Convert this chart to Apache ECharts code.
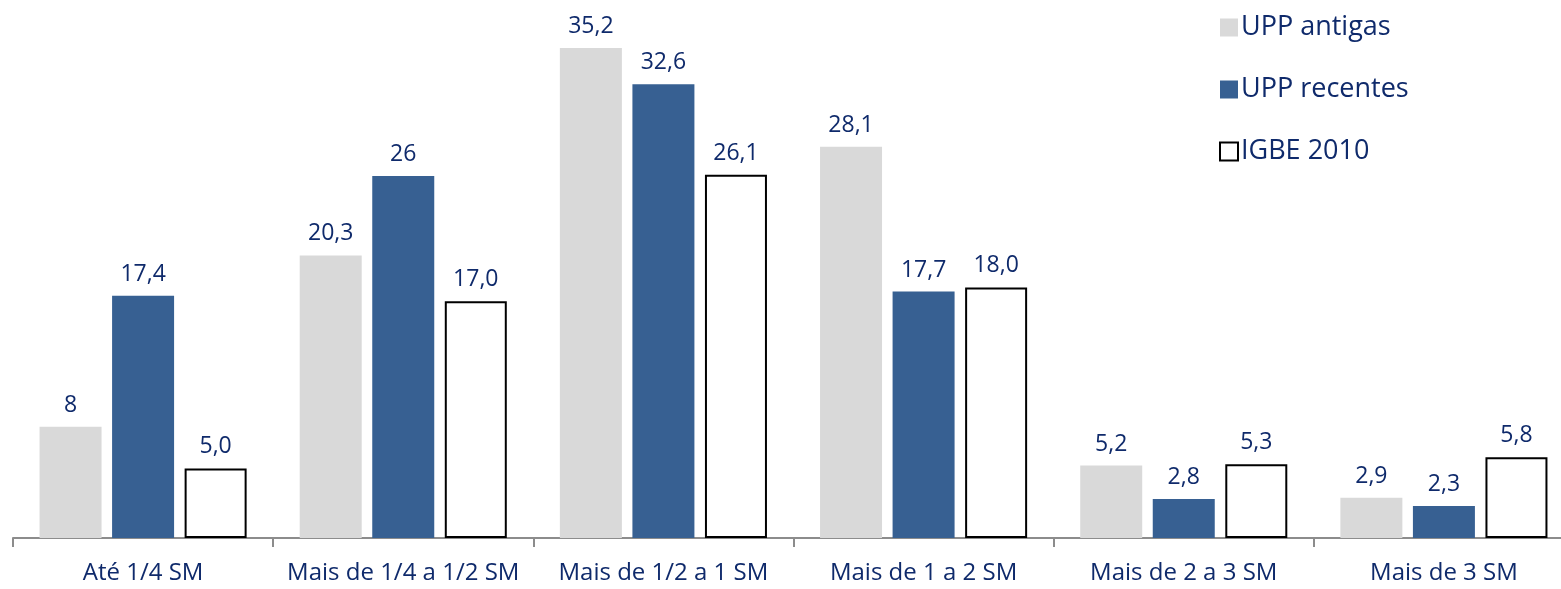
<!DOCTYPE html>
<html>
<head>
<meta charset="utf-8">
<script src="https://cdn.jsdelivr.net/npm/echarts@6/dist/echarts.min.js"></script>
<style>
  html, body { margin: 0; padding: 0; background: #fff; }
  #chart { width: 1561px; height: 589px; }
</style>
</head>
<body>
<div id="chart"></div>
<script>
// faixas de renda
var categorias = ['Até 1/4 SM', 'Mais de 1/4 a 1/2 SM', 'Mais de 1/2 a 1 SM', 'Mais de 1 a 2 SM', 'Mais de 2 a 3 SM', 'Mais de 3 SM'];
var uppAntigas = [8, 20.3, 35.2, 28.1, 5.2, 2.9];
var uppRecentes = [17.4, 26, 32.6, 17.7, 2.8, 2.3];
var igbe2010 = [5.0, 17.0, 26.1, 18.0, 5.3, 5.8];

var corTexto = '#0F2A6B';
var fonte = '"Open Sans", "Noto Sans", sans-serif';

var chart = echarts.init(document.getElementById('chart'));

// rótulo com vírgula decimal
function virgula(casas) {
    return function(p) {
        var v = casas ? p.value.toFixed(casas) : String(p.value);
        return v.replace('.', ',');
    };
}

function rotulo(casas) {
    return {
        show: true,
        position: 'top',
        distance: 10,
        color: corTexto,
        fontSize: 23,
        fontFamily: fonte,
        formatter: virgula(casas)
    };
}

var option = {
    animation: false,
    // o gráfico original está cortado à direita
    grid: { left: 13, width: 1561, top: 48, bottom: 51, outerBoundsMode: 'none', containLabel: false },
    legend: {
        orient: 'vertical',
        left: 1214,
        top: 9,
        icon: 'rect',
        itemWidth: 18,
        itemHeight: 18,
        itemGap: 35,
        textStyle: { color: corTexto, fontSize: 27, fontFamily: fonte, padding: [0, 0, 0, -2] },
        data: ['UPP antigas', 'UPP recentes', 'IGBE 2010']
    },
    xAxis: {
        type: 'category',
        data: categorias,
        axisLine: { lineStyle: { color: '#8c8c8c', width: 2 } },
        axisTick: { show: true, interval: 0, length: 9, lineStyle: { color: '#8c8c8c', width: 2 } },
        axisLabel: { interval: 0, color: corTexto, fontSize: 24, fontFamily: fonte, margin: 23 }
    },
    yAxis: {
        type: 'value',
        min: 0,
        max: 35.2,
        show: false,
        splitLine: { show: false }
    },
    series: [{
        name: 'UPP antigas',
        type: 'bar',
        data: uppAntigas,
        barWidth: 62,
        barGap: '17%',
        itemStyle: { color: '#D9D9D9' },
        label: rotulo(0)
    }, {
        name: 'UPP recentes',
        type: 'bar',
        data: uppRecentes,
        barWidth: 62,
        barGap: '17%',
        itemStyle: { color: '#376092' },
        label: rotulo(0)
    }, {
        name: 'IGBE 2010',
        type: 'bar',
        data: igbe2010,
        barWidth: 62,
        barGap: '17%',
        itemStyle: { color: '#ffffff', borderColor: '#000000', borderWidth: 2 },
        label: rotulo(1)
    }]
};

chart.setOption(option);
</script>
</body>
</html>
